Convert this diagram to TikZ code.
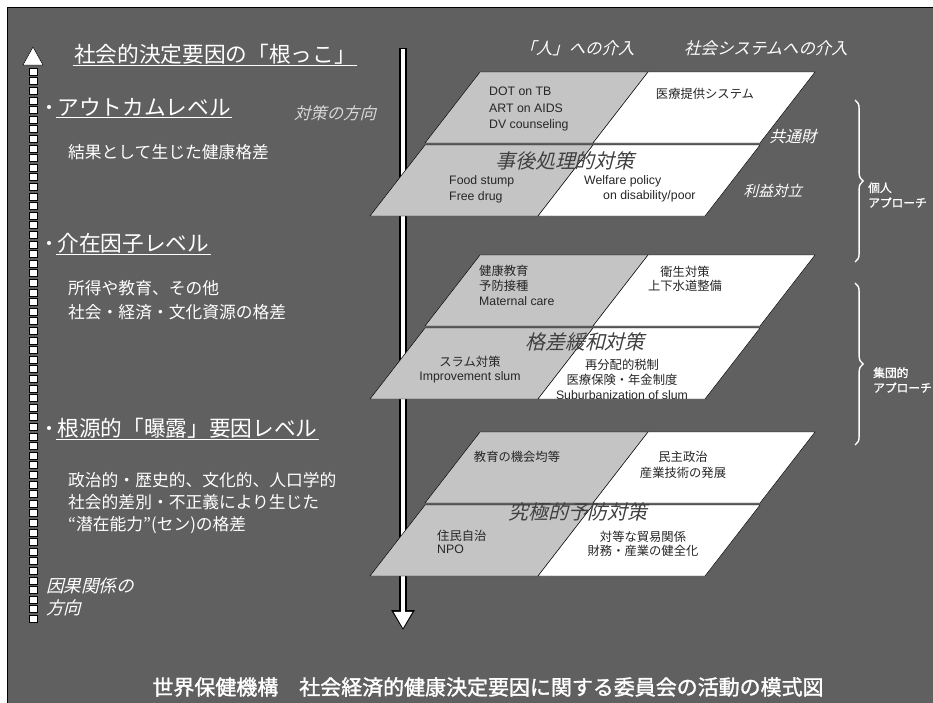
\documentclass[tikz,border=0pt]{standalone}
\usepackage{fontspec}
\setmainfont{Noto Sans CJK JP}
\newfontfamily\jpit[FakeSlant=0.25]{Noto Sans CJK JP}
\newfontfamily\jpbf[FakeBold=1.5]{Noto Sans CJK JP}
\newfontfamily\enfont{Liberation Sans}
\usetikzlibrary{arrows.meta,decorations.pathreplacing}

\definecolor{bgray}{RGB}{96,96,96}
\definecolor{speckle}{RGB}{196,196,196}

\tikzset{
  level/.style={text=white, font=\fontsize{18.5pt}{22pt}\selectfont, inner sep=1pt, anchor=west},
  body/.style={text=white, font=\fontsize{14.3pt}{20pt}\selectfont, align=left, anchor=west, inner sep=0pt},
  uline/.style={white, line width=1.2pt},
  bullet/.style={circle, fill=white, inner sep=0pt, minimum size=3.5pt},
  itlbl/.style={text=white, font=\jpit\fontsize{14pt}{17pt}\selectfont, inner sep=0pt},
  smalltxt/.style={text=black!85, font=\fontsize{10.5pt}{13pt}\selectfont, inner sep=0pt},
  bigtitle/.style={text=black!75, font=\jpit\fontsize{17pt}{20pt}\selectfont, inner sep=0pt},
  person/.style={fill=speckle, draw=black, thin},
  system/.style={fill=white, draw=black, thin},
  apbrace/.style={white, line width=1.2pt, decorate, decoration={brace, amplitude=7pt}},
  aplbl/.style={text=white, font=\jpbf\fontsize{10pt}{12.8pt}\selectfont, align=left, anchor=west, inner sep=0pt}
}

\begin{document}
\begin{tikzpicture}[x=0.03cm, y=-0.03cm]

    % Frame and background
    \useasboundingbox (0,0) rectangle (933,702);
    \fill[white] (0,0) rectangle (933,702);
    \filldraw[fill=bgray, draw=black, thick] (7,7) rectangle (935,704);

    % Left dotted arrow (causal direction)
    \foreach \k in {0,...,57} {
      \filldraw[fill=white, draw=black, thin] (29,{68+9.6*\k}) rectangle ++(8,7);
    }
    \coordinate (causetip) at (33,47);
    \filldraw[fill=white, draw=black, thin] (23,65) -- (causetip) -- (43,65) -- cycle;

    % Central arrow (direction of measures)
    \coordinate (measuretop) at (403,48);
    \coordinate (measurebot) at (403,630);
    \draw[black, line width=6.5pt, -{Triangle[width=19pt,length=17pt]}] (measuretop) -- (measurebot);
    \draw[white, line width=4pt, -{Triangle[width=15pt,length=14pt]}] ([yshift=-0.5pt]measuretop) -- ([yshift=1.5pt]measurebot);

    % Left column texts
    \node[level, anchor=center] (title) at (215,54) {社会的決定要因の「根っこ」};
    \draw[uline] (title.south west) -- (title.south east);

    \node[bullet] (dot1) at (49,107) {};
    \node[level] (outcome) at (56,107) {アウトカムレベル};
    \draw[uline] (outcome.south west) -- (outcome.south east);
    \node[body] (outcometxt) at (68,152) {結果として生じた健康格差};

    \node[bullet] (dot2) at (49,243) {};
    \node[level] (mediate) at (56,243) {介在因子レベル};
    \draw[uline] (mediate.south west) -- (mediate.south east);
    \node[body, font=\fontsize{14.3pt}{20.5pt}\selectfont] (mediatetxt) at (68,300) {所得や教育、その他\\社会・経済・文化資源の格差};

    \node[bullet] (dot3) at (49,428) {};
    \node[level] (root) at (56,428) {根源的「曝露」要因レベル};
    \draw[uline] (root.south west) -- (root.south east);
    \node[body, font=\fontsize{14.3pt}{18.4pt}\selectfont] (roottxt) at (68,503) {政治的・歴史的、文化的、人口学的\\社会的差別・不正義により生じた\\“潜在能力”(セン)の格差};

    \node[itlbl, align=left, anchor=west, font=\jpit\fontsize{15pt}{18.5pt}\selectfont] (causedir) at (46,597) {因果関係の\\方向};
    \node[itlbl, text=white!85!black] (measuredir) at (335,113) {対策の方向};

    % Column headers
    \node[itlbl] (headperson) at (577,48) {「人」への介入};
    \node[itlbl] (headsystem) at (766,48) {社会システムへの介入};

    % Parallelogram layers
    \foreach \T in {72,255,432} {
      \filldraw[person] (480,\T) -- (648,\T) -- (593,\T+71) -- (425,\T+71) -- cycle;
      \filldraw[system] (648,\T) -- (815,\T) -- (760,\T+71) -- (593,\T+71) -- cycle;
      \filldraw[person] (425,\T+73) -- (593,\T+73) -- (538,\T+144) -- (370,\T+144) -- cycle;
      \filldraw[system] (593,\T+73) -- (760,\T+73) -- (705,\T+144) -- (538,\T+144) -- cycle;
    }

    % Layer 1
    \node[smalltxt, font=\enfont\fontsize{10.5pt}{13.7pt}\selectfont, align=left, anchor=west] (treat) at (489,109) {DOT on TB\\ART on AIDS\\DV counseling};
    \node[smalltxt] (caresys) at (705,94) {医療提供システム};
    \node[bigtitle] (posthoc) at (565,161) {事後処理的対策};
    \node[smalltxt, font=\enfont\fontsize{10.5pt}{13.7pt}\selectfont, align=left, anchor=west] (foodstump) at (449,189) {Food stump\\Free drug};
    \node[smalltxt, font=\enfont\fontsize{10.5pt}{13pt}\selectfont, anchor=west] (welfare) at (584,181) {Welfare policy};
    \node[smalltxt, font=\enfont\fontsize{10.5pt}{13pt}\selectfont, anchor=west] (disab) at (603,196) {on disability/poor};
    \node[itlbl, font=\jpit\fontsize{13.5pt}{16pt}\selectfont] (common) at (793,137) {共通財};
    \node[itlbl, font=\jpit\fontsize{12.5pt}{15pt}\selectfont] (conflict) at (773,191) {利益対立};

    % Layer 2
    \node[smalltxt, align=left, anchor=west, font=\fontsize{10.5pt}{12.8pt}\selectfont] (healthedu) at (479,285) {健康教育\\予防接種\\{\enfont Maternal care}};
    \node[smalltxt, align=center, font=\fontsize{10.5pt}{11.5pt}\selectfont] (sanit) at (685,279) {衛生対策\\上下水道整備};
    \node[bigtitle] (gap) at (585,342) {格差緩和対策};
    \node[smalltxt, align=center, font=\fontsize{10.5pt}{12pt}\selectfont] (slum) at (470,370) {スラム対策\\{\enfont Improvement slum}};
    \node[smalltxt, align=center, font=\fontsize{10.5pt}{12.8pt}\selectfont] (redist) at (622,379) {再分配的税制\\医療保険・年金制度\\{\enfont Suburbanization of slum}};

    % Layer 3
    \node[smalltxt] (eduequal) at (517,457) {教育の機会均等};
    \node[smalltxt, align=center, font=\fontsize{10.5pt}{13.7pt}\selectfont] (democ) at (683,465) {民主政治\\産業技術の発展};
    \node[bigtitle] (ultimate) at (578,512) {究極的予防対策};
    \node[smalltxt, align=left, anchor=west, font=\fontsize{10.5pt}{11.5pt}\selectfont] (selfgov) at (437,542) {住民自治\\{\enfont NPO}};
    \node[smalltxt, align=center, font=\fontsize{10.5pt}{11.5pt}\selectfont] (trade) at (643,544) {対等な貿易関係\\財務・産業の健全化};

    % Approach braces
    \coordinate (indtop) at (855,100);
    \coordinate (indbot) at (855,262);
    \coordinate (coltop) at (855,283);
    \coordinate (colbot) at (855,445);
    \draw[apbrace] (indtop) -- (indbot);
    \draw[apbrace] (coltop) -- (colbot);
    \node[aplbl] (indiv) at (868,195) {個人\\アプローチ};
    \node[aplbl] (collect) at (873,380) {集団的\\アプローチ};

    % Caption
    \node[text=white, font=\jpbf\fontsize{17.9pt}{20pt}\selectfont, inner sep=0pt] (caption) at (488,687) {世界保健機構　社会経済的健康決定要因に関する委員会の活動の模式図};

\end{tikzpicture}
\end{document}
